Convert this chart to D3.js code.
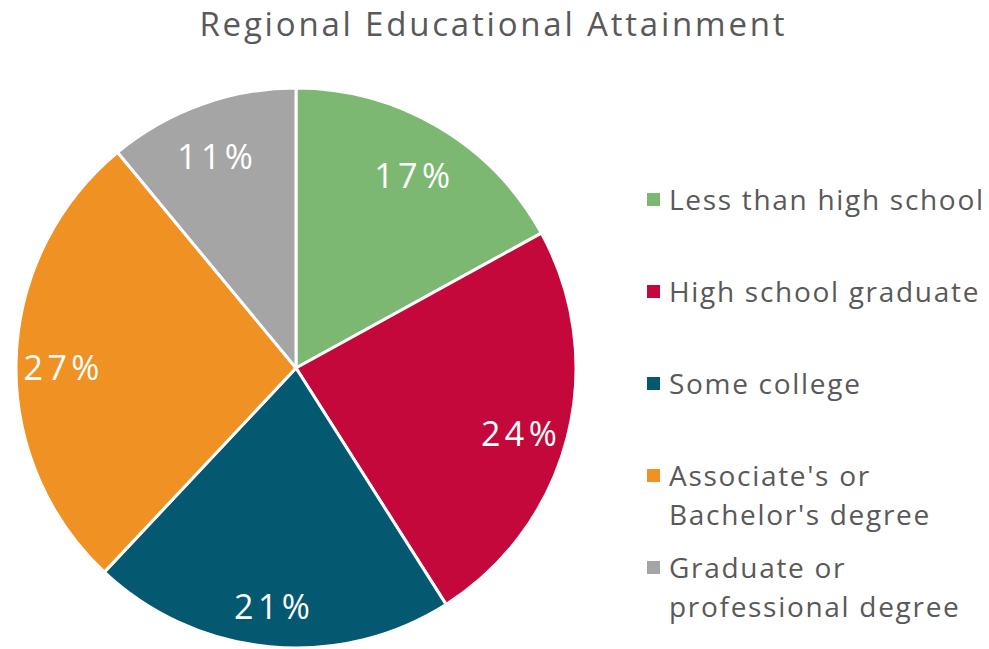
<!DOCTYPE html>
<html><head><meta charset="utf-8">
<script src="https://cdn.jsdelivr.net/npm/d3@7"></script>
<style>body{margin:0;background:#fff;} text{font-family:"Open Sans",sans-serif;}</style>
</head><body>
<svg id="chart" width="989" height="649"></svg>
<script>
const title = "Regional Educational Attainment";
const categories = ["Less than high school","High school graduate","Some college","Associate's or Bachelor's degree","Graduate or professional degree"];
const legendLines = [["Less than high school"],["High school graduate"],["Some college"],["Associate's or","Bachelor's degree"],["Graduate or","professional degree"]];
const values = [17,24,21,27,11];
const colors = ["#7db872","#c4083b","#045870","#ef9123","#a5a5a5"];

const svg = d3.select("#chart");
const cx = 296, cy = 368, R = 280;

svg.append("text").attr("x", 492 + 1.4).attr("y", 36).attr("text-anchor","middle")
  .attr("font-size", 33).attr("fill","#595959").attr("letter-spacing", 2.8).text(title);

const pie = d3.pie().sort(null).value(d=>d)(values);
const arc = d3.arc().innerRadius(0).outerRadius(R);
const labelArc = d3.arc().innerRadius(R*0.83).outerRadius(R*0.83);
const g = svg.append("g").attr("transform",`translate(${cx},${cy})`);
g.selectAll("path").data(pie).join("path")
  .attr("d", arc).attr("fill",(d,i)=>colors[i]).attr("stroke","#fff").attr("stroke-width",3);
g.selectAll("text").data(pie).join("text")
  .attr("transform", d=>`translate(${labelArc.centroid(d)})`)
  .attr("text-anchor","middle").attr("dx", 0).attr("dy","0.58em")
  .attr("font-size", 34).attr("fill","#fff").attr("letter-spacing", 4.4)
  .text(d=>d.data+"%");

const rowY = d3.scalePoint().domain(d3.range(categories.length)).range([200, 568]);
const lg = svg.append("g");
legendLines.forEach((lines,i)=>{
  const y0 = rowY(i);
  lg.append("rect").attr("x",647).attr("y",y0-7).attr("width",13).attr("height",13).attr("fill",colors[i]);
  lines.forEach((ln,j)=>{
    lg.append("text").attr("x",669).attr("y",y0 + j*39).attr("dy","0.36em")
      .attr("font-size",28).attr("fill","#595959").attr("letter-spacing",1.7).text(ln);
  });
});
</script>
</body></html>
